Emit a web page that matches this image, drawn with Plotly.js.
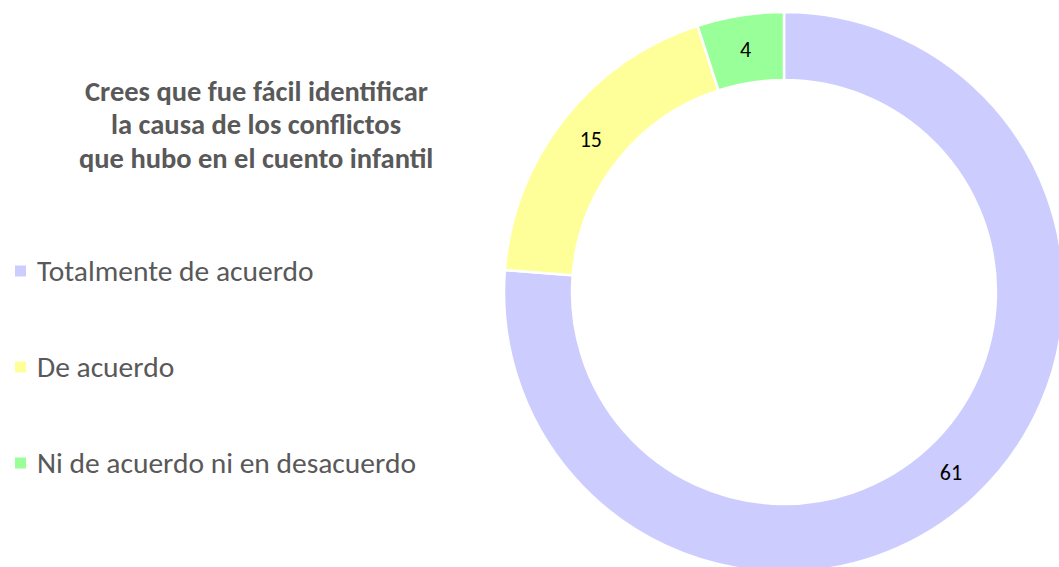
<!DOCTYPE html>
<html>
<head>
<meta charset="utf-8">
<script src="https://cdn.plot.ly/plotly-3.0.1.min.js"></script>
<style>
  html, body { margin: 0; padding: 0; overflow: hidden; background: #fff; width: 1059px; height: 567px; }
  #chart { width: 1070px; height: 580px; }
</style>
</head>
<body>
<div id="chart"></div>
<script>
// Data
const categories = ["Totalmente de acuerdo", "De acuerdo", "Ni de acuerdo ni en desacuerdo"];
const values = [61, 15, 4];
const colors = ["#CCCCFF", "#FFFF99", "#99FF99"];
const titleLines = ["Crees que fue fácil identificar", "la causa de los conflictos", "que hubo en el cuento infantil"];

const W = 1070, H = 580;
const px = x => x / W;
const py = y => 1 - y / H;

const FONT = "Carlito, Calibri, Lato, 'Open Sans', sans-serif";

const trace = {
  type: "pie",
  labels: categories,
  values: values,
  marker: { colors: colors, line: { color: "#FFFFFF", width: 2.5 } },
  hole: 0.757,
  sort: false,
  direction: "clockwise",
  rotation: 0,
  textinfo: "value",
  textposition: "inside",
  insidetextorientation: "horizontal",
  textfont: { family: FONT, size: 22, color: "#000000" },
  hoverinfo: "label+value",
  showlegend: false,
  domain: { x: [px(504), px(1064)], y: [py(572), py(12)] }
};

const annotations = [];
const titleY = [91, 125, 159];
titleLines.forEach((t, i) => {
  annotations.push({
    xref: "paper", yref: "paper", x: px(256), y: py(titleY[i]),
    xanchor: "center", yanchor: "middle", showarrow: false,
    text: "<b>" + t + "</b>",
    font: { family: FONT, size: 28.5, color: "#595959" }
  });
});

const legendY = [271, 367, 463];
const shapes = [];
categories.forEach((c, i) => {
  annotations.push({
    xref: "paper", yref: "paper", x: px(35), y: py(legendY[i]),
    xanchor: "left", yanchor: "middle", showarrow: false,
    text: c,
    font: { family: FONT, size: 29.5, color: "#595959" }
  });
  shapes.push({
    type: "rect", xref: "paper", yref: "paper",
    x0: px(15), x1: px(26), y0: py(legendY[i] + 5.5), y1: py(legendY[i] - 5.5),
    fillcolor: colors[i], line: { width: 0 }
  });
});

const layout = {
  width: W, height: H,
  margin: { l: 0, r: 0, t: 0, b: 0 },
  paper_bgcolor: "#FFFFFF",
  plot_bgcolor: "#FFFFFF",
  showlegend: false,
  uniformtext: { mode: "show", minsize: 22 },
  annotations: annotations,
  shapes: shapes
};

Plotly.newPlot("chart", [trace], layout, { displayModeBar: false, staticPlot: true });
</script>
</body>
</html>
